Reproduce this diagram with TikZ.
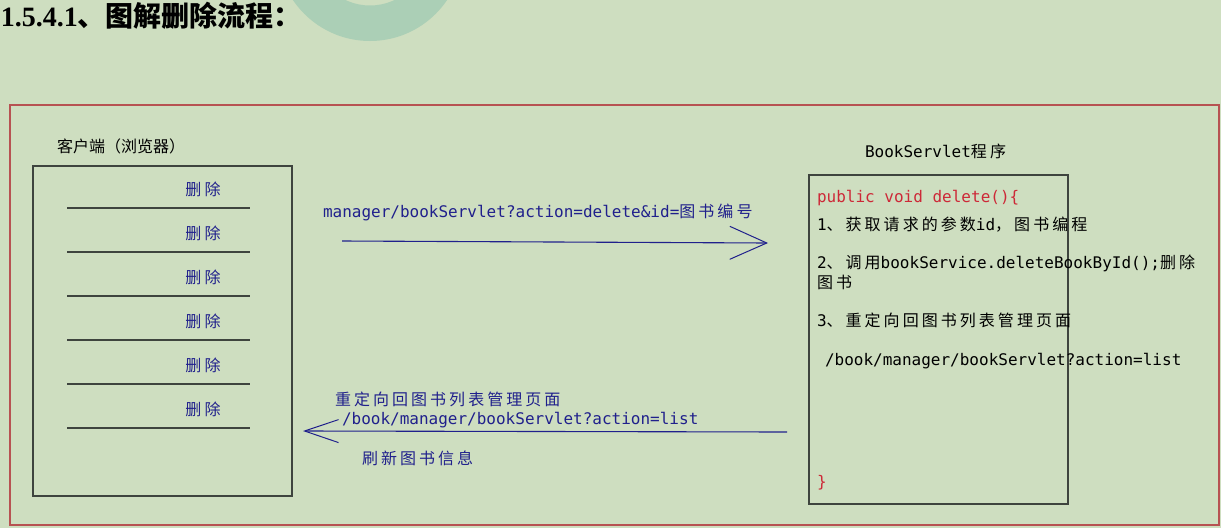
\documentclass[tikz,border=0pt]{standalone}
\usepackage{fontspec}
\setmainfont{Liberation Serif}
\setmonofont{DejaVu Sans Mono}
\newfontfamily\cjk{Noto Sans CJK SC}
\newfontfamily\cjkwide[LetterSpace=19]{Noto Sans CJK SC}
\usetikzlibrary{calc,positioning,arrows.meta}

\definecolor{pagegreen}{RGB}{206,222,192}
\definecolor{ringgreen}{RGB}{171,207,182}
\definecolor{framered}{RGB}{183,82,82}
\definecolor{boxgray}{RGB}{62,68,62}
\definecolor{linkblue}{RGB}{32,32,140}
\definecolor{codered}{RGB}{205,40,55}

% chinese inside mono text
\newcommand{\zh}[1]{{\cjkwide\fontsize{16}{19}\selectfont #1}}

\begin{document}
\begin{tikzpicture}[x=1pt, y=-1pt
        , every node/.style={ inner sep=0pt, outer sep=0pt, font=\ttfamily\fontsize{16}{19}\selectfont }
        , frame/.style={ draw=framered, line width=2pt, anchor=north west }
        , box/.style={ draw=boxgray, line width=1.4pt, anchor=north west }
        , rowline/.style={ draw=boxgray, line width=1.3pt }
        , del/.style={ anchor=base, text=linkblue }
        , link/.style={ anchor=base west, text=linkblue }
        , code/.style={ anchor=base west, text=black }
        , reqarrow/.style={ draw=linkblue, line width=1.1pt,
            -{Straight Barb[length=37pt, width=33pt, line width=1pt]} }
        , resparrow/.style={ draw=linkblue, line width=1.1pt,
            -{Straight Barb[length=34pt, width=23pt, line width=1pt]} }
        ]

        \useasboundingbox (0,0) rectangle (1221,528);
        \fill[pagegreen] (0,0) rectangle (1221,528);

        % watermark ring at the top
        \begin{scope}
            \clip (0,0) rectangle (1221,528);
            \fill[ringgreen, even odd rule] (370,-52) circle[radius=93pt]
                (370,-52) circle[radius=57.5pt];
        \end{scope}

        \node[anchor=base west, font=\rmfamily\bfseries\fontsize{28}{30}\selectfont] (title) at (1,26)
            {1.5.4.1{\cjk 、图解删除流程：}};

        \node[frame, minimum width=1209pt, minimum height=420pt] (frame) at (10,105) {};

        % client side
        \node[anchor=base west, font=\cjk\fontsize{16}{19}\selectfont] (clientlabel) at (57,152)
            {客户端（浏览器）};
        \node[box, minimum width=259pt, minimum height=330pt] (client) at (33,166) {};

        \foreach \i in {0,...,5}
        {
            \coordinate (row\i-l) at (67,208+44*\i);
            \coordinate (row\i-r) at (250,208+44*\i);
            \draw[rowline] (row\i-l) -- (row\i-r);
            \node[del] (del\i) at (203,195+44*\i) {\zh{删除}};
        }

        % request
        \node[link] (reqlabel) at (323,217)
            {manager/bookServlet?action=delete\&id=\zh{图书编号}};
        \coordinate (req-from) at (342,241);
        \coordinate (req-to) at (768,243);
        \draw[reqarrow] (req-from) -- (req-to);

        % redirect back
        \node[link] (backlabel) at (335,405) {\zh{重定向回图书列表管理页面}};
        \node[link] (backurl) at (342,424) {/book/manager/bookServlet?action=list};
        \coordinate (resp-from) at (787,432);
        \coordinate (resp-to) at (303,431);
        \draw[resparrow] (resp-from) -- (resp-to);
        \node[link] (refresh) at (362,464) {\zh{刷新图书信息}};

        % servlet side
        \node[code] (servletlabel) at (865,157) {BookServlet\zh{程序}};
        \node[box, minimum width=259pt, minimum height=329pt] (servlet) at (809,175) {};

        \node[code, text=codered] (method) at (817,202) {public void delete()\{};
        \node[code] (step1) at (817,230) {1\zh{、获取请求的参数}id\zh{，图书编程}};
        \node[code] (step2) at (817,268) {2\zh{、调用}bookService.deleteBookById();\zh{删除}};
        \node[code] (step2b) at (817,288) {\zh{图书}};
        \node[code] (step3) at (817,326) {3\zh{、重定向回图书列表管理页面}};
        \node[code] (step3b) at (825,365) {/book/manager/bookServlet?action=list};
        \node[code, text=codered] (close) at (817,487) {\}};

\end{tikzpicture}
\end{document}
